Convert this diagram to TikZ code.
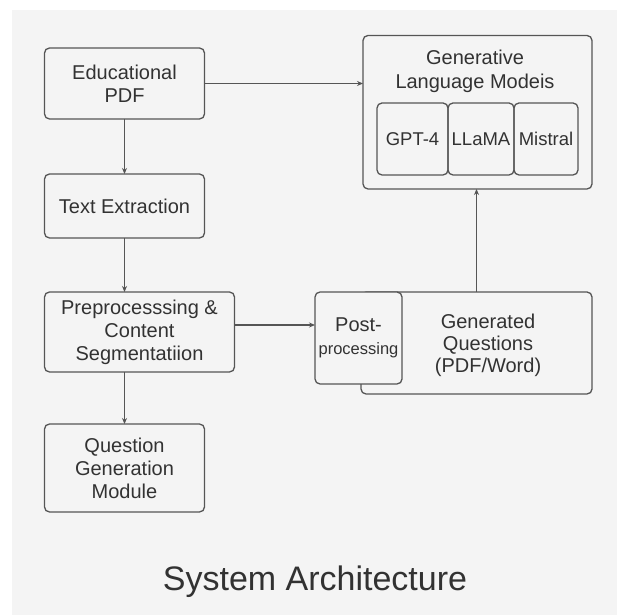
\documentclass[tikz,border=0pt]{standalone}
\usepackage{fontspec}
\setmainfont{Liberation Sans}
\usetikzlibrary{positioning,fit,arrows.meta}
\definecolor{bggray}{RGB}{244,244,244}
\definecolor{linegray}{RGB}{85,85,85}
\definecolor{textgray}{RGB}{50,50,50}

\begin{document}
\begin{tikzpicture}[
    node distance=54pt,
    box/.style={rectangle, draw=linegray, line width=1.3pt, rounded corners=5pt, align=center, text=textgray, font=\fontsize{20}{23}\selectfont, inner sep=0pt, outer sep=0pt},
    model/.style={box, minimum height=72pt, font=\fontsize{18.5}{21}\selectfont},
    label/.style={text=textgray, align=center, inner sep=0pt, font=\fontsize{20}{23}\selectfont},
    arrow/.style={-{Stealth[length=6pt,width=5pt]}, line width=1.1pt, draw=linegray}
]
    % Canvas
    \useasboundingbox (0,0) rectangle (617pt,615pt);
    \fill[bggray] (12pt,0) rectangle (617pt,605pt);

    % Left column
    \node[box, minimum width=160pt, minimum height=71pt] (edu) at (124.5pt,531.5pt) {Educational\\PDF};
    \node[box, minimum width=160pt, minimum height=64pt, below=55pt of edu] (extract) {Text Extraction};
    \node[box, minimum width=190pt, minimum height=80pt, below=54pt of extract.south west, anchor=north west] (prep) {Preprocesssing \&\\Content\\Segmentatiion};
    \node[box, minimum width=160pt, minimum height=88pt, below=52pt of prep.south west, anchor=north west] (qgen) {Question\\Generation\\Module};

    % Language models
    \node[model, minimum width=71pt] (gpt) at (412.5pt,476pt) {GPT-4};
    \node[model, minimum width=66pt, right=0pt of gpt] (llama) {LLaMA};
    \node[model, minimum width=64pt, right=0pt of llama] (mistral) {Mistral};
    \node[label, font=\fontsize{20}{24}\selectfont] (glmtitle) at (475pt,544pt) {Generative\\Language Modeis};
    \node[box, fit=(glmtitle)(gpt)(mistral), inner sep=14pt] (glm) {};

    % Output
    \node[box, minimum width=231pt, minimum height=102pt] (genq) at (476.5pt,272pt) {};
    \node[label, font=\fontsize{20}{22}\selectfont] (genqtext) at (488pt,270pt) {Generated\\Questions\\(PDF/Word)};
    \node[box, fill=bggray, minimum width=87pt, minimum height=92pt] (post) at (358.5pt,277pt) {\fontsize{20}{21}\selectfont Post-\\\fontsize{16.5}{21}\selectfont processing};

    % Edges
    \draw[arrow] (edu) -- (extract);
    \draw[arrow] (extract.south) -- (extract.south |- prep.north);
    \draw[arrow] (prep.south -| qgen.north) -- (qgen.north);
    \draw[arrow] (edu.east) -- (edu.east -| glm.west);
    \draw[arrow] ([yshift=7pt]prep.east) -- ([yshift=7pt]prep.east -| post.west);
    \draw[arrow] (genq.north) -- (genq.north |- glm.south);

    % Caption
    \node[text=textgray, font=\fontsize{34}{40}\selectfont, anchor=base] (title) at (315pt,25pt) {System Architecture};
\end{tikzpicture}
\end{document}
